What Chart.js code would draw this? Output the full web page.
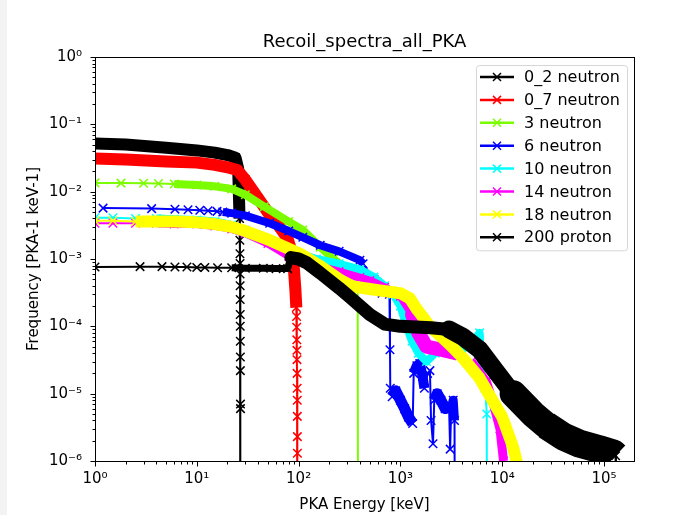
<!DOCTYPE html>
<html>
<head>
<meta charset="utf-8">
<title>Recoil_spectra_all_PKA</title>
<script src="https://cdn.jsdelivr.net/npm/chart.js@4.4.0/dist/chart.umd.min.js"></script>
<style>
    html, body { margin: 0; padding: 0; }
    body {
        width: 690px; height: 515px; overflow: hidden;
        background: linear-gradient(to right, #f3f3f3 0, #f3f3f3 7px, #ffffff 7px);
    }
    #chart { display: block; }
</style>
</head>
<body>
<canvas id="chart" width="690" height="515"></canvas>
<script>
// ============================================================
//  Data, energy in keV
// ============================================================

const energy02 = [1, 2, 5, 10, 15, 20, 24, 25.5, 26.3, 26.5, 26.55, 26.6, 26.62, 26.65, 26.68, 26.7, 26.72,
                  26.75, 26.78, 26.8, 26.85, 26.87, 26.9];
const freq02   = [0.052, 0.050, 0.045, 0.041, 0.038, 0.035, 0.032, 0.022, 0.004, 1.9e-3, 1.2e-3, 8.6e-4, 6e-4, 4e-4, 2.5e-4, 1.5e-4, 1e-4,
                  6e-5, 3.5e-5, 2.2e-5, 7e-6, 6e-6, 1e-9];

const energy07 = [1, 2, 5, 10, 15, 20, 25, 30, 40, 52, 65, 78, 85, 90, 93, 95, 95.5, 95.8, 96, 96.2, 96.4,
                  96.6, 96.8, 97, 97.1, 97.2, 97.3, 97.4];
const freq07   = [0.031, 0.030, 0.028, 0.027, 0.025, 0.023, 0.021, 0.015, 0.008, 0.0045, 0.003, 0.002, 0.0013, 7e-4, 3.5e-4, 1.9e-4, 1.4e-4, 9.7e-5, 6.3e-5, 4.4e-5, 3.2e-5,
                  2e-5, 1.2e-5, 8e-6, 4.6e-6, 2.3e-6, 1.3e-6, 1e-9];

const energy3 = [1, 1.8, 3, 4.2, 6, 10, 15, 22, 30, 46, 80, 110, 163, 220, 285, 350, 380, 385];
const freq3   = [0.0135, 0.0134, 0.0133, 0.0132, 0.013, 0.0126, 0.012, 0.011, 0.009, 0.006, 0.0036, 0.0027, 0.0015, 0.001, 7.5e-4, 6e-4, 5.5e-4, 1e-9];

const energy6 = [1.2, 3.6, 6.1, 8.2, 10.7, 12.9, 15.8, 18, 22, 30, 52, 80, 110, 163, 250, 400, 430, 550, 660, 780,
                 790, 795, 830, 900, 1000, 1100, 1200, 1320, 1350, 1450, 1550, 1650, 1720, 1850, 1950, 2000, 2090,
                 2150, 2300, 2500, 2750, 3000, 3080, 3150, 3300, 3400, 3450];
const freq6   = [0.0057, 0.0056, 0.0055, 0.0054, 0.0053, 0.0052, 0.0051, 0.005, 0.0048, 0.0044, 0.0034, 0.0026, 0.0021, 0.0016, 0.0013, 9.6e-4, 8.5e-4, 5e-4, 3.1e-4, 3e-4,
                 4.5e-5, 1.2e-5, 9e-6, 1.1e-5, 8e-6, 6e-6, 4.5e-6, 3.6e-6, 2e-5, 2.6e-5, 2.8e-5, 1.8e-5, 1.2e-5, 2e-5, 2.2e-5, 4e-6, 1.8e-6,
                 8e-6, 1e-5, 8e-6, 6e-6, 7e-6, 1.5e-6, 6e-6, 8e-6, 4e-6, 1e-9];

const energy10 = [1, 1.5, 2.5, 4, 6, 10, 15, 22, 30, 50, 80, 150, 250, 400, 550, 700, 850, 1000, 1150, 1300,
                  1500, 1800, 2200, 3000, 4000, 5000, 6000, 6300, 6800, 7050, 7100];
const freq10   = [0.0041, 0.0041, 0.004, 0.004, 0.0039, 0.0038, 0.0036, 0.0032, 0.0027, 0.0019, 0.00135, 0.001, 8.5e-4, 7e-4, 5.4e-4, 4e-4, 3e-4, 2e-4, 1e-4, 6e-5,
                  4e-5, 3e-5, 4e-5, 4.5e-5, 4.5e-5, 5.5e-5, 8e-5, 2e-5, 1.2e-5, 5e-6, 1e-9];

const energy14 = [1, 1.5, 2.5, 4, 6, 10, 15, 22, 30, 50, 80, 150, 250, 400, 500, 700, 1000, 1300, 1500, 1800,
                  2500, 3500, 5000, 7000, 8000, 9500, 10300, 10500];
const freq14   = [0.0034, 0.0034, 0.0034, 0.0034, 0.0033, 0.0033, 0.0031, 0.0028, 0.0024, 0.0017, 0.0011, 8e-4, 6.5e-4, 5.3e-4, 4.8e-4, 3.8e-4, 2.8e-4, 1.5e-4, 8e-5, 5e-5,
                  4.5e-5, 4e-5, 3e-5, 1.5e-5, 8e-6, 3e-6, 1e-6, 1e-9];

const energy18 = [1, 1.5, 2.5, 4, 6, 10, 15, 22, 30, 52, 103, 160, 250, 340, 630, 1000, 1240, 1450, 1950, 3000,
                  4100, 6000, 7500, 10000, 12800, 15000, 15500];
const freq18   = [0.0037, 0.0037, 0.0036, 0.0036, 0.0036, 0.0035, 0.0033, 0.003, 0.0026, 0.0019, 0.0012, 8e-4, 5e-4, 3.9e-4, 3.4e-4, 3.1e-4, 2.6e-4, 1.8e-4, 1e-4, 5.5e-5,
                  3.4e-5, 1.7e-5, 9.5e-6, 4.5e-6, 1.6e-6, 6e-7, 1e-9];

const energy200 = [1, 2.77, 4.55, 6.1, 8, 10, 12, 16, 22, 30, 45, 60, 78, 84, 100, 120, 163, 250, 320, 500,
                   700, 1000, 2000, 3000, 4100, 6000, 9000, 12800, 20000, 27000, 40000, 58000, 90000, 123000, 130000, 131000];
const freq200   = [7.6e-4, 7.7e-4, 7.7e-4, 7.6e-4, 7.6e-4, 7.5e-4, 7.5e-4, 7.4e-4, 7.4e-4, 7.3e-4, 7.3e-4, 7.2e-4, 7.2e-4, 1.05e-3, 1e-3, 8.8e-4, 6.2e-4, 3.7e-4, 2.7e-4, 1.5e-4,
                   1.08e-4, 1e-4, 9.5e-5, 9e-5, 7e-5, 4.5e-5, 2e-5, 1e-5, 5e-6, 3.4e-6, 2.3e-6, 1.8e-6, 1.5e-6, 1.3e-6, 1.2e-6, 1e-9];

const seriesLabels = ["0_2 neutron", "0_7 neutron", "3 neutron", "6 neutron", "10 neutron", "14 neutron", "18 neutron", "200 proton"];

const xTickValues = [1, 10, 100, 1000, 10000, 100000];
const xTickLabels = ["10⁰", "10¹", "10²", "10³", "10⁴", "10⁵"];
const yTickValues = [1, 0.1, 0.01, 0.001, 1e-4, 1e-5, 1e-6];
const yTickLabels = ["10⁰", "10⁻¹", "10⁻²", "10⁻³", "10⁻⁴", "10⁻⁵", "10⁻⁶"];

const TITLE = "Recoil_spectra_all_PKA";

// ============================================================
//  Styles: colour + energy ranges where dense markers form a band
//  band = [from keV, to keV, width px, cap]
// ============================================================

const SERIES = [
    { e: energy02,  f: freq02,  color: "#000000", bands: [[1, 26.3, 12, "butt"]] },
    { e: energy07,  f: freq07,  color: "#ff0000", bands: [[1, 95, 12, "butt"]] },
    { e: energy3,   f: freq3,   color: "#7cfc00", bands: [[5, 380, 8, "butt"]] },
    { e: energy6,   f: freq6,   color: "#0000ff", bands: [[18, 430, 8, "butt"], [800, 1320, 11, "butt"], [1350, 1720, 10, "butt"],
                                                          [2150, 3000, 11, "butt"], [3100, 3400, 9, "butt"]] },
    { e: energy10,  f: freq10,  color: "#00ffff", bands: [[4, 6300, 8, "butt"]] },
    { e: energy14,  f: freq14,  color: "#ff00ff", bands: [[4, 1300, 8, "butt"], [1300, 4000, 14, "round"], [4000, 10300, 9, "butt"]] },
    { e: energy18,  f: freq18,  color: "#ffff00", bands: [[2, 15000, 12, "butt"]] },
    { e: energy200, f: freq200, color: "#000000", bands: [[20, 84, 7, "butt"], [84, 3000, 13, "round"], [3000, 12800, 18, "round"],
                                                          [12800, 27000, 27, "round"], [27000, 130000, 28, "butt"]] },
];

const THIN = 2;
const FONT = "'DejaVu Sans', sans-serif";

Chart.defaults.font.family = FONT;
Chart.defaults.color = "#000";

function bandOf(s, a, b) {
    const e0 = s.e[a], e1 = s.e[b];
    return s.bands.find(([lo, hi]) => e0 >= lo && e1 <= hi);
}

const segWidth = (s, a, b) => { const band = bandOf(s, a, b); return band ? band[2] : THIN; };
const segCap   = (s, a, b) => { const band = bandOf(s, a, b); return band ? band[3] : "round"; };

// all 1..9 x 10^n ticks inside the range (matplotlib-like major/minor)
function logTicks(scale) {
    const ticks = [];
    const lo = Math.floor(Math.log10(scale.min));
    const hi = Math.ceil(Math.log10(scale.max));
    for (let d = lo; d <= hi; d++) {
        for (let m = 1; m <= 9; m++) {
            const v = m * Math.pow(10, d);
            if (v >= scale.min * 0.999 && v <= scale.max * 1.001) ticks.push({ value: v });
        }
    }
    scale.ticks = ticks;
}

function labelFor(values, labels) {
    return v => {
        const i = values.findIndex(t => Math.abs(Math.log10(t) - Math.log10(v)) < 1e-6);
        return i < 0 ? "" : labels[i];
    };
}

const isMajor = v => Math.abs(Math.log10(v) - Math.round(Math.log10(v))) < 1e-6;

// ============================================================
//  Plugin: title, spines, outward tick marks, matplotlib-style legend
// ============================================================

const mplAxes = {
    id: "mplAxes",
    afterDatasetsDraw(chart) {
        const { ctx, chartArea: a, scales } = chart;
        ctx.save();
        ctx.strokeStyle = "#000";
        ctx.lineWidth = 1;
        const L = Math.round(a.left) + 0.5, T = Math.round(a.top) + 0.5;
        const R = Math.round(a.right) + 0.5, B = Math.round(a.bottom) + 0.5;
        ctx.strokeRect(L, T, R - L, B - T);

        ctx.beginPath();
        scales.x.ticks.forEach(t => {
            const px = Math.round(scales.x.getPixelForValue(t.value)) + 0.5;
            ctx.moveTo(px, B);
            ctx.lineTo(px, B + (isMajor(t.value) ? 5 : 3));
        });
        scales.y.ticks.forEach(t => {
            const py = Math.round(scales.y.getPixelForValue(t.value)) + 0.5;
            ctx.moveTo(L, py);
            ctx.lineTo(L - (isMajor(t.value) ? 5 : 3), py);
        });
        ctx.stroke();

        // title centred over the axes
        ctx.fillStyle = "#000";
        ctx.font = "18px " + FONT;
        ctx.textAlign = "center";
        ctx.textBaseline = "alphabetic";
        ctx.fillText(TITLE, (a.left + a.right) / 2, a.top - 10);
        ctx.restore();
    },
    afterDraw(chart) {
        const { ctx, chartArea: a } = chart;
        const sets = chart.data.datasets;
        const rowH = 22.9;
        ctx.save();
        ctx.font = "16px " + FONT;
        const textW = Math.max(...sets.map(d => ctx.measureText(d.label).width));
        const w = 48 + textW + 7;
        const h = 24 + rowH * (sets.length - 1) + 1;
        const right = a.right - 7, top = a.top + 8;
        const left = right - w;

        ctx.beginPath();
        ctx.roundRect(left + 0.5, top + 0.5, w, h, 3);
        ctx.fillStyle = "rgba(255,255,255,0.8)";
        ctx.fill();
        ctx.strokeStyle = "rgba(204,204,204,0.8)";
        ctx.lineWidth = 1;
        ctx.stroke();

        ctx.textBaseline = "middle";
        ctx.textAlign = "left";
        sets.forEach((d, i) => {
            const y = top + 12 + i * rowH;
            ctx.strokeStyle = d.borderColor;
            ctx.lineWidth = 2.5;
            ctx.beginPath();
            ctx.moveTo(left + 4, y);
            ctx.lineTo(left + 38, y);
            ctx.stroke();
            const cx = left + 21, r = 4;
            ctx.lineWidth = 1.5;
            ctx.beginPath();
            ctx.moveTo(cx - r, y - r); ctx.lineTo(cx + r, y + r);
            ctx.moveTo(cx - r, y + r); ctx.lineTo(cx + r, y - r);
            ctx.stroke();
            ctx.fillStyle = "#000";
            ctx.fillText(d.label, left + 48, y + 1);
        });
        ctx.restore();
    },
};

// ============================================================
//  Chart
// ============================================================

const datasets = SERIES.map((s, i) => ({
    label: seriesLabels[i],
    data: s.e.map((x, k) => ({ x, y: s.f[k] })),
    borderColor: s.color,
    backgroundColor: s.color,
    borderWidth: THIN,
    borderJoinStyle: "round",
    borderCapStyle: "round",
    pointStyle: "crossRot",
    pointRadius: 6,
    pointHoverRadius: 6,
    pointBorderWidth: 1.5,
    pointBorderColor: s.color,
    tension: 0,
    order: SERIES.length - i,
    segment: {
        borderWidth: ctx => segWidth(s, ctx.p0DataIndex, ctx.p1DataIndex),
        borderCapStyle: ctx => segCap(s, ctx.p0DataIndex, ctx.p1DataIndex),
    },
}));

new Chart(document.getElementById("chart"), {
    type: "line",
    data: { datasets },
    options: {
        responsive: false,
        devicePixelRatio: 1,
        animation: false,
        events: [],
        layout: { padding: { left: 0, right: 56, top: 57, bottom: 0 } },
        plugins: {
            legend: { display: false },
            tooltip: { enabled: false },
            title: { display: false },
        },
        scales: {
            x: {
                type: "logarithmic",
                min: 1,
                max: 1.97e5,
                grid: { display: false, drawTicks: false },
                border: { display: false },
                ticks: {
                    autoSkip: false, maxRotation: 0, minRotation: 0,
                    padding: 9,
                    color: "#000",
                    font: { size: 15 },
                    callback: labelFor(xTickValues, xTickLabels),
                },
                title: {
                    display: true,
                    text: "PKA Energy [keV]",
                    color: "#000",
                    font: { size: 15 },
                    padding: { top: 0, bottom: 1 },
                },
                afterBuildTicks: logTicks,
                afterFit: s => { s.height = 54; },
            },
            y: {
                type: "logarithmic",
                min: 1e-6,
                max: 1,
                grid: { display: false, drawTicks: false },
                border: { display: false },
                ticks: {
                    autoSkip: false,
                    padding: 13,
                    color: "#000",
                    font: { size: 15 },
                    callback: labelFor(yTickValues, yTickLabels),
                },
                title: {
                    display: true,
                    text: "Frequency [PKA-1 keV-1]",
                    color: "#000",
                    font: { size: 15 },
                    padding: { top: 25, bottom: 0 },
                },
                afterBuildTicks: logTicks,
                afterFit: s => { s.width = 95; },
            },
        },
    },
    plugins: [mplAxes],
});
</script>
</body>
</html>
